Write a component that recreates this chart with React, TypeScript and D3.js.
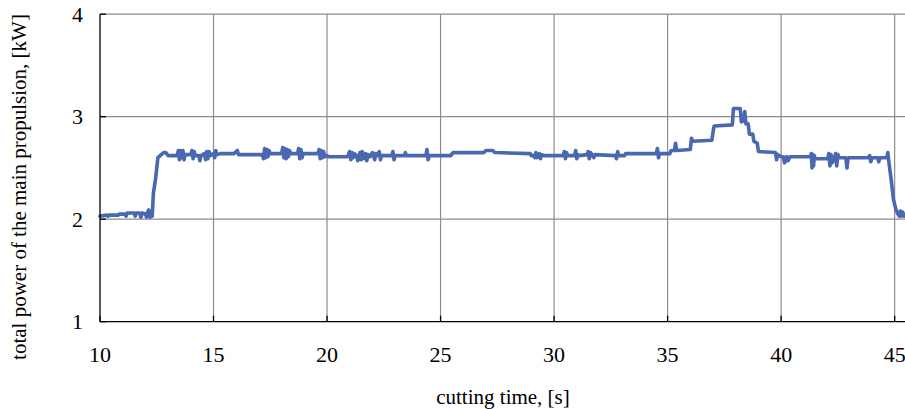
import React from "react";
import * as d3 from "d3";

const xTicks = [10, 15, 20, 25, 30, 35, 40, 45];
const yTicks = [1, 2, 3, 4];
const xTitle = "cutting time, [s]";
const yTitle = "total power of the main propulsion, [kW]";

// [cutting time (s), total power (kW)]
const samples: [number, number][] = [
  [10.0, 2.03], [10.3, 2.04], [10.35, 2.03], [10.4, 2.04], [10.8, 2.04], [10.85, 2.05], [11.1, 2.05], [11.15, 2.03],
  [11.2, 2.06], [11.5, 2.06], [11.55, 2.03], [11.6, 2.06], [11.75, 2.06], [11.8, 2.02], [11.85, 2.06], [12.0, 2.05],
  [12.05, 2.02], [12.1, 2.07], [12.15, 2.09], [12.2, 2.02], [12.3, 2.03], [12.35, 2.25], [12.45, 2.4], [12.55, 2.6],
  [12.7, 2.63], [12.8, 2.65], [12.9, 2.65], [13.0, 2.62], [13.4, 2.62], [13.45, 2.67], [13.5, 2.58], [13.55, 2.67],
  [13.6, 2.6], [13.65, 2.67], [13.7, 2.58], [13.75, 2.63], [14.0, 2.63], [14.05, 2.67], [14.1, 2.59], [14.15, 2.66],
  [14.2, 2.62], [14.35, 2.62], [14.4, 2.57], [14.45, 2.62], [14.6, 2.64], [14.65, 2.58], [14.7, 2.66], [14.75, 2.59],
  [14.8, 2.66], [14.85, 2.62], [15.0, 2.64], [15.05, 2.6], [15.1, 2.67], [15.15, 2.63], [15.3, 2.64], [15.9, 2.64],
  [16.0, 2.66], [16.05, 2.67], [16.1, 2.63], [17.15, 2.63],
  [17.2, 2.59], [17.25, 2.69], [17.3, 2.6], [17.35, 2.68], [17.4, 2.61], [17.45, 2.67], [17.5, 2.64], [18.0, 2.64],
  [18.05, 2.7], [18.1, 2.6], [18.15, 2.69], [18.2, 2.59], [18.25, 2.68], [18.3, 2.61], [18.35, 2.67], [18.4, 2.64],
  [18.7, 2.64], [18.75, 2.69], [18.8, 2.59], [18.85, 2.68], [18.9, 2.6], [18.95, 2.64], [19.6, 2.64], [19.65, 2.68],
  [19.7, 2.59], [19.75, 2.67], [19.8, 2.6], [19.85, 2.66], [19.9, 2.61], [20.0, 2.62], [20.05, 2.61], [20.9, 2.61],
  [21.0, 2.66], [21.05, 2.58], [21.1, 2.65], [21.15, 2.6], [21.2, 2.64], [21.3, 2.62], [21.35, 2.57], [21.45, 2.65],
  [21.5, 2.58], [21.55, 2.66], [21.6, 2.59], [21.7, 2.64], [21.75, 2.57], [21.8, 2.63], [21.9, 2.61], [22.0, 2.65],
  [22.1, 2.58], [22.15, 2.64], [22.2, 2.62], [22.3, 2.66], [22.35, 2.58], [22.4, 2.62], [22.85, 2.62], [22.9, 2.66],
  [22.95, 2.58], [23.0, 2.62], [23.4, 2.62], [23.45, 2.65], [23.5, 2.62], [24.35, 2.62], [24.4, 2.68], [24.45, 2.58],
  [24.5, 2.62], [25.45, 2.62], [25.55, 2.65], [26.9, 2.65], [27.0, 2.67], [27.3, 2.67], [27.4, 2.65], [28.95, 2.64],
  [29.0, 2.62], [29.1, 2.62], [29.15, 2.6], [29.2, 2.65], [29.25, 2.6], [29.35, 2.64], [29.4, 2.59], [29.45, 2.63],
  [29.55, 2.62], [30.4, 2.62], [30.45, 2.66], [30.5, 2.59], [30.55, 2.65], [30.6, 2.62], [30.9, 2.62], [30.95, 2.67],
  [31.0, 2.59], [31.05, 2.63], [31.1, 2.62], [31.45, 2.63], [31.5, 2.66], [31.55, 2.59], [31.6, 2.65], [31.7, 2.62],
  [31.75, 2.6], [31.8, 2.63], [32.7, 2.62], [32.75, 2.59], [32.8, 2.66], [32.85, 2.62], [33.1, 2.62], [33.15, 2.64],
  [34.5, 2.64], [34.55, 2.69], [34.6, 2.6], [34.65, 2.64], [35.1, 2.64], [35.15, 2.67], [35.3, 2.67], [35.35, 2.74],
  [35.4, 2.67], [36.0, 2.68], [36.05, 2.79], [36.1, 2.76], [36.95, 2.77], [37.0, 2.85], [37.05, 2.91], [37.85, 2.92],
  [37.9, 3.08], [38.2, 3.08], [38.25, 2.95], [38.35, 2.96], [38.4, 3.05], [38.45, 2.93], [38.55, 2.93], [38.6, 2.83],
  [38.75, 2.83], [38.8, 2.76], [38.95, 2.74], [39.0, 2.66], [39.75, 2.65], [39.8, 2.58], [39.85, 2.63], [40.0, 2.61],
  [40.1, 2.61], [40.15, 2.55], [40.25, 2.61], [40.3, 2.57], [40.4, 2.61], [41.3, 2.61], [41.33, 2.64], [41.36, 2.5],
  [41.4, 2.63], [41.43, 2.52], [41.46, 2.62], [41.5, 2.59], [42.05, 2.59], [42.1, 2.64], [42.15, 2.52], [42.2, 2.63],
  [42.25, 2.55], [42.35, 2.6], [42.4, 2.64], [42.45, 2.52], [42.5, 2.63], [42.55, 2.6], [42.85, 2.6], [42.9, 2.5],
  [42.95, 2.6], [43.85, 2.6], [43.9, 2.62], [43.95, 2.56], [44.0, 2.6], [44.25, 2.6], [44.3, 2.56], [44.35, 2.6],
  [44.65, 2.6], [44.7, 2.65], [44.75, 2.55], [44.85, 2.38], [44.95, 2.19], [45.05, 2.1], [45.12, 2.06], [45.2, 2.03],
  [45.25, 2.08], [45.3, 2.03], [45.35, 2.07], [45.42, 2.03], [45.5, 2.05],
];

const W = 905;
const H = 409;

export default function App() {
  const x = d3.scaleLinear().domain([10, 45.5]).range([100, 906]);
  const y = d3.scaleLinear().domain([1, 4]).range([321.7, 14.2]);
  const line = d3
    .line<[number, number]>()
    .x((d) => x(d[0]))
    .y((d) => y(d[1]));
  const font = '"Liberation Serif", "Times New Roman", "DejaVu Serif", serif';
  const ts = { fontFamily: font };
  const x0 = x(10);
  const x1 = W;
  const yb = y(1);
  const yt = y(4);
  return (
    <svg
      width={W}
      height={H}
      style={{ position: "absolute", left: 0, top: 0, background: "#fff", fontFamily: font }}
    >
      <rect x={0} y={0} width={W} height={H} fill="#fff" />
      {xTicks.slice(1).map((t) => (
        <line key={"gx" + t} x1={x(t)} x2={x(t)} y1={yt} y2={yb} stroke="#8c8c8c" strokeWidth={1.2} />
      ))}
      {yTicks.slice(1).map((v) => (
        <line key={"gy" + v} x1={x0} x2={x1} y1={y(v)} y2={y(v)} stroke="#8c8c8c" strokeWidth={1.2} />
      ))}
      <path d={line(samples) || ""} fill="none" stroke="#4a68b0" strokeWidth={3.6} strokeLinejoin="round" strokeLinecap="round" />
      <line x1={x0} x2={x0} y1={yt} y2={yb} stroke="#000" strokeWidth={1.3} />
      <line x1={x0} x2={x1} y1={yb} y2={yb} stroke="#000" strokeWidth={1.3} />
      {xTicks.map((t) => (
        <line key={"tx" + t} x1={x(t)} x2={x(t)} y1={yb} y2={yb - 6} stroke="#000" strokeWidth={1.3} />
      ))}
      {yTicks.map((v) => (
        <line key={"ty" + v} x1={x0} x2={x0 + 6} y1={y(v)} y2={y(v)} stroke="#000" strokeWidth={1.3} />
      ))}
      {xTicks.map((t) => (
        <text key={"lx" + t} x={x(t)} y={362} textAnchor="middle" fontSize={22} fill="#000" style={ts}>
          {t}
        </text>
      ))}
      {yTicks.map((v) => (
        <text key={"ly" + v} x={83} y={y(v) + 7.5} textAnchor="end" fontSize={22} fill="#000" style={ts}>
          {v}
        </text>
      ))}
      <text x={503} y={404} textAnchor="middle" fontSize={21} fill="#000" style={ts}>
        {xTitle}
      </text>
      <text
        transform={`translate(26, 187) rotate(-90)`}
        textAnchor="middle"
        fontSize={21}
        fill="#000"
        style={ts}
      >
        {yTitle}
      </text>
    </svg>
  );
}
